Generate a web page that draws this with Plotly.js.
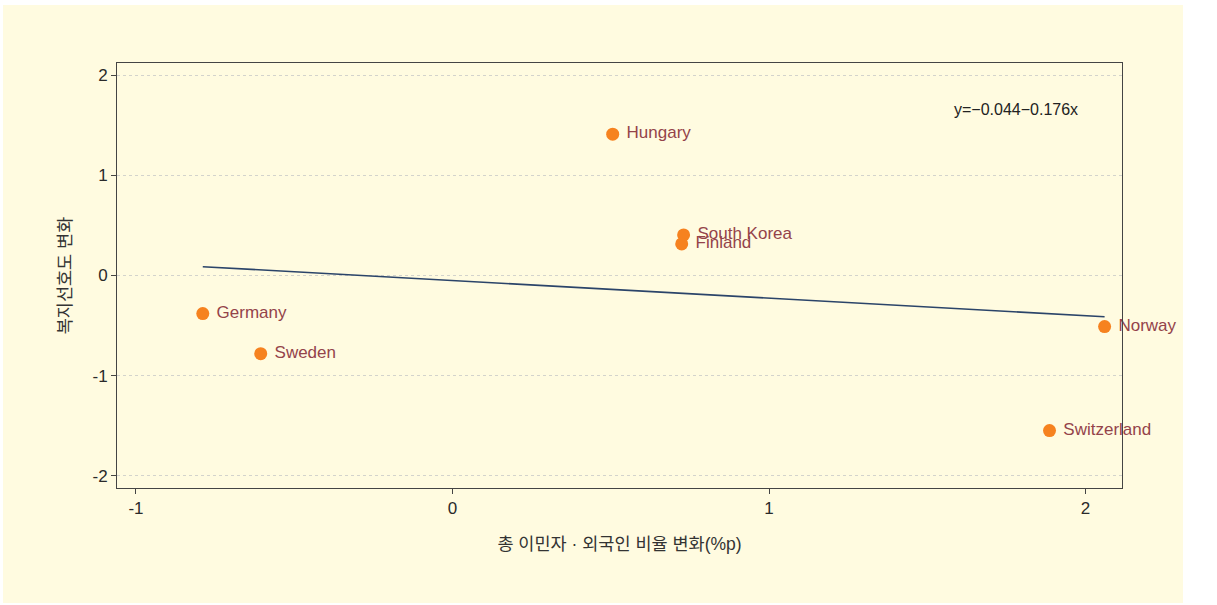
<!DOCTYPE html>
<html>
<head>
<meta charset="utf-8">
<script src="https://cdn.plot.ly/plotly-3.0.1.min.js"></script>
<style>
html,body{margin:0;padding:0;background:#ffffff;}
#chart{position:absolute;left:3px;top:5px;width:1180px;height:598px;}
</style>
</head>
<body>
<div id="chart"></div>
<script>
const countries = ["Hungary","South Korea","Finland","Germany","Sweden","Norway","Switzerland"];
const immigrantChange = [0.506, 0.730, 0.724, -0.789, -0.606, 2.060, 1.886];
const welfareChange = [1.41, 0.405, 0.315, -0.38, -0.78, -0.51, -1.547];
const fitX = [-0.789, 2.060];
const fitY = [0.088, -0.412];
const equationText = "y=\u22120.044\u22120.176x";

const font = "Liberation Sans, Arial, Noto Sans CJK KR, sans-serif";

const traces = [
  {
    x: fitX, y: fitY, type: "scatter", mode: "lines",
    line: {color: "#2b4469", width: 1.6},
    hoverinfo: "skip", showlegend: false
  },
  {
    x: immigrantChange, y: welfareChange, type: "scatter", mode: "markers+text",
    text: countries.map(c => " " + c), textposition: "middle right",
    textfont: {family: font, size: 17, color: "#94434a"},
    marker: {color: "#f6821f", size: 13},
    cliponaxis: false, showlegend: false
  }
];

const layout = {
  width: 1180, height: 598,
  margin: {l: 114, r: 61, t: 58, b: 115},
  paper_bgcolor: "#fffbe0",
  plot_bgcolor: "#fffbe0",
  font: {family: font, size: 17, color: "#333"},
  showlegend: false,
  xaxis: {
    range: [-1.06, 2.115],
    tickvals: [-1, 0, 1, 2], ticktext: ["-1","0","1","2"],
    ticks: "outside", ticklen: 5, tickcolor: "#444",
    showgrid: false, zeroline: false,
    showline: true, linecolor: "#444", linewidth: 1, mirror: true,
    tickfont: {size: 17, color: "#2a2a2a"},
    title: {text: "총 이민자 · 외국인 비율 변화(%p)", font: {size: 17.5, color: "#333"}, standoff: 20}
  },
  yaxis: {
    range: [-2.12, 2.12],
    tickvals: [-2, -1, 0, 1, 2], ticktext: ["-2","-1","0","1","2"],
    ticks: "outside", ticklen: 5, tickcolor: "#444",
    showgrid: true, gridcolor: "#d3d3cc", griddash: "3px,3px", gridwidth: 1,
    zeroline: false,
    showline: true, linecolor: "#444", linewidth: 1, mirror: true,
    tickfont: {size: 17, color: "#2a2a2a"},
    title: {text: "복지선호도 변화", font: {size: 17.5, color: "#333"}, standoff: 16}
  },
  annotations: [
    {
      text: equationText, xref: "x", yref: "y", x: 1.78, y: 1.66,
      showarrow: false, font: {size: 16, color: "#222"}, xanchor: "center"
    }
  ]
};

Plotly.newPlot("chart", traces, layout, {displayModeBar: false, staticPlot: true});
</script>
</body>
</html>
